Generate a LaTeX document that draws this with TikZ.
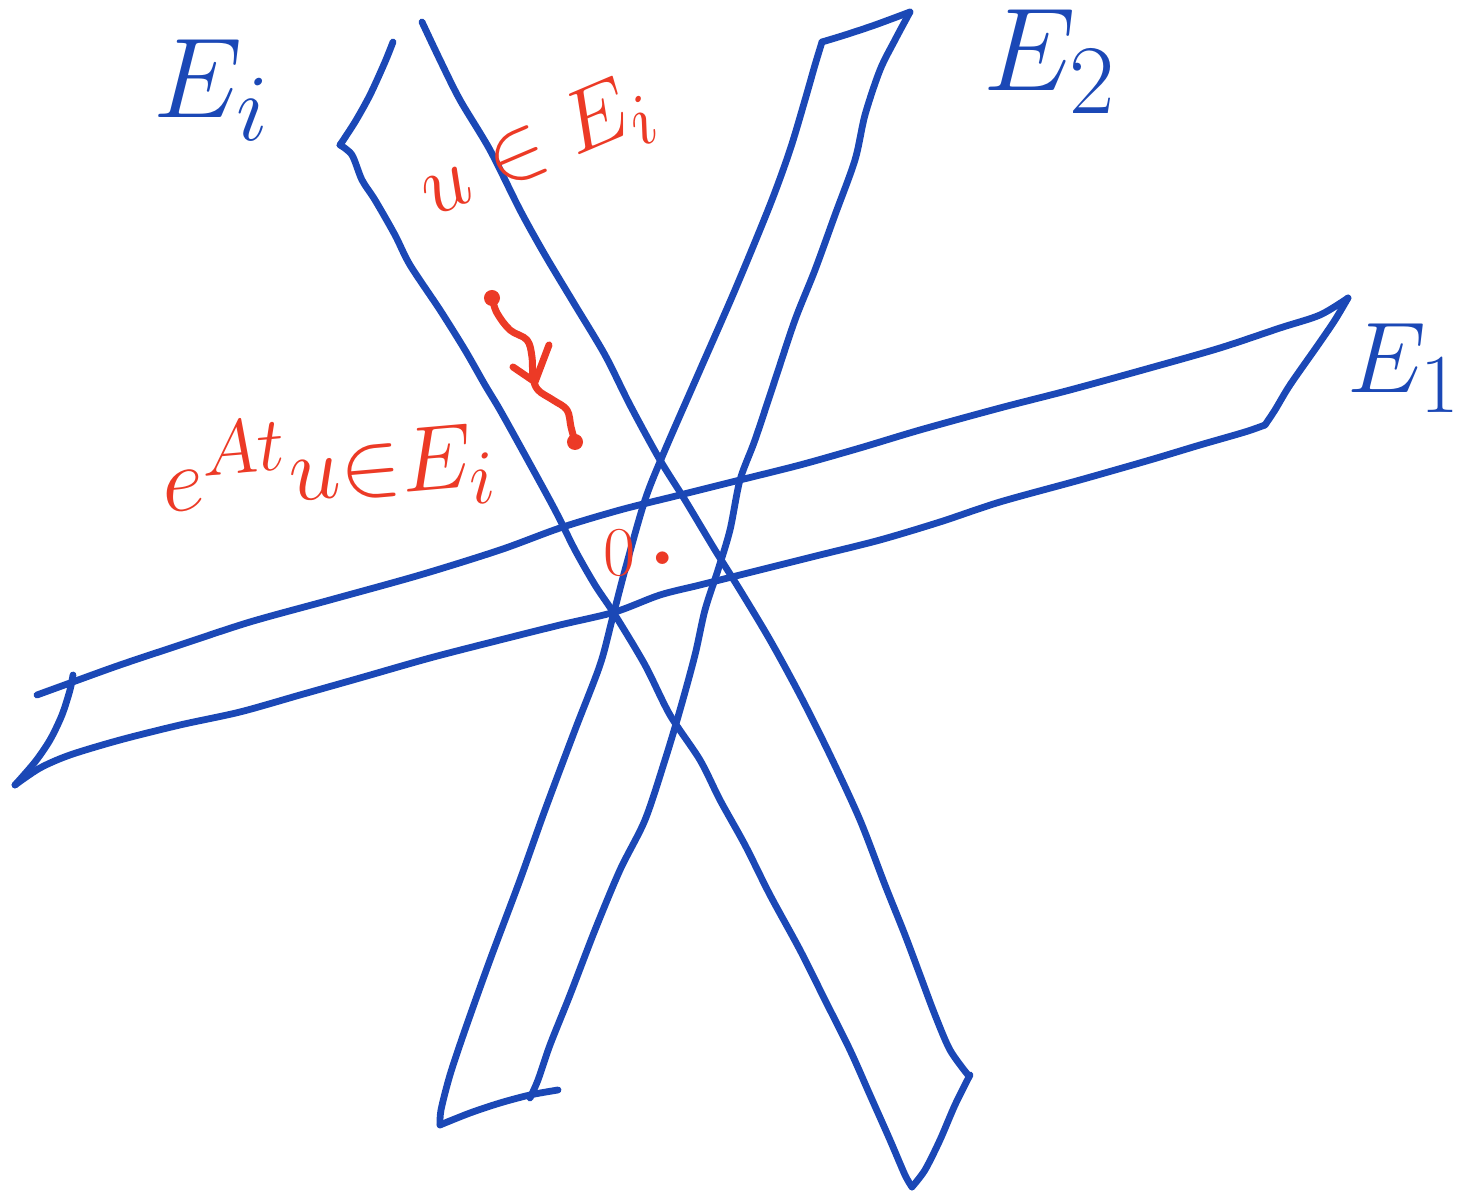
\documentclass[tikz,border=0pt]{standalone}
\usepackage{amsmath}
\definecolor{penblue}{RGB}{27,72,182}
\definecolor{penred}{RGB}{236,58,38}
\tikzset{
  band/.style={draw=penblue, line width=0.068cm, line cap=round, line join=round},
  redpen/.style={draw=penred, line width=0.07cm, line cap=round, line join=round},
  bluelab/.style={text=penblue, font=\Huge, inner sep=0pt},
  redlab/.style={text=penred, font=\Huge, inner sep=0pt},
}
\begin{document}
\begin{tikzpicture}[x=0.01cm, y=-0.01cm]
\useasboundingbox (0,0) rectangle (1465,1192);

% ---------- band E_i (top-left to bottom-right) ----------
\draw[band] plot[smooth, tension=0.5] coordinates {(393,42) (385,62) (370,95) (355,122) (340,145)};
\draw[band] plot[smooth, tension=0.5] coordinates {(340,145) (352,155) (362,180) (375,200) (395,235) (410,265) (440,310) (465,350) (485,385) (500,410) (525,455) (555,510) (575,550) (595,585) (615,615) (645,665) (670,715) (700,760) (720,800) (745,845) (770,895) (800,950) (825,1000) (850,1050) (870,1095) (890,1140) (905,1175) (912,1187)};
\draw[band] plot[smooth, tension=0.5] coordinates {(912,1187) (925,1170) (940,1140) (955,1105) (970,1075)};
\draw[band] plot[smooth, tension=0.5] coordinates {(422,22) (440,60) (460,100) (490,150) (520,210) (545,255) (575,305) (605,355) (630,405) (660,460) (685,500) (715,550) (740,590) (770,640) (800,695) (830,755) (860,820) (885,885) (905,935) (920,975) (935,1015) (950,1050) (968,1075)};

% ---------- band E_2 (bottom-left to top-right) ----------
\draw[band] plot[smooth, tension=0.5] coordinates {(440,1125) (441,1110) (450,1075) (465,1030) (490,960) (520,880) (545,810) (575,730) (600,665) (612,620) (625,570) (645,500) (665,450) (700,370) (735,290) (770,205) (790,150) (805,100) (815,65) (822,42)};
\draw[band] plot[smooth, tension=0.5] coordinates {(822,42) (845,35) (875,25) (910,12)};
\draw[band] plot[smooth, tension=0.5] coordinates {(910,12) (895,40) (880,70) (865,115) (855,160) (835,215) (815,270) (795,320) (775,380) (755,440) (740,480) (730,530) (718,570) (705,610) (695,655) (680,710) (665,760) (645,820) (620,870) (595,930) (570,995) (550,1045) (538,1080) (530,1098)};
\draw[band] plot[smooth, tension=0.5] coordinates {(440,1125) (470,1113) (500,1103) (530,1095) (558,1090)};

% ---------- band E_1 (left to right, rising) ----------
\draw[band] plot[smooth, tension=0.5] coordinates {(37,695) (70,683) (120,665) (180,645) (250,622) (330,600) (420,575) (500,550) (560,528) (620,510) (680,495) (740,480) (800,465) (860,448) (920,430) (1000,408) (1070,390) (1150,368) (1220,348) (1280,328) (1320,315) (1348,298)};
\draw[band] plot[smooth, tension=0.5] coordinates {(1348,298) (1335,320) (1318,345) (1290,385) (1275,410) (1265,425)};
\draw[band] plot[smooth, tension=0.5] coordinates {(1265,425) (1245,432) (1200,445) (1150,460) (1080,480) (1000,502) (940,522) (880,540) (820,555) (760,570) (700,585) (660,595) (615,612) (560,625) (500,640) (430,658) (360,678) (300,695) (240,712) (180,725) (120,740) (70,755) (40,768) (15,785)};
\draw[band] plot[smooth, tension=0.5] coordinates {(15,785) (35,762) (50,740) (62,715) (70,690) (73,675)};

% ---------- blue labels ----------
\node[bluelab, scale=1.3] (lEi) at (212,90) {$E_i$};
\node[bluelab, scale=1.35] (lE2) at (1050,62) {$E_2$};
\node[bluelab, scale=1.15, anchor=east] (lE1) at (1462,368) {$E_1$};

% ---------- red labels ----------
\node[redlab, scale=1.0, rotate=23] (lu) at (537,150) {$u \in E_i$};
\node[redlab, scale=1.05, rotate=5] (leAt) at (328,465) {$e^{At}u{\in}E_i$};
\node[redlab, scale=0.8] (l0) at (643,553) {$0$\hspace{0.12em}\raisebox{0.35ex}{\scalebox{2.2}{.}}};

% ---------- squiggle arrow ----------
\coordinate (s) at (492,298);
\coordinate (t) at (575,442);
\fill[penred] (s) circle[radius=0.08cm];
\fill[penred] (t) circle[radius=0.08cm];
\draw[redpen] plot[smooth, tension=0.6] coordinates {(s) (497,313) (510,330) (527,340) (532,357) (533,377) (538,390) (553,400) (567,410) (571,427) (t)};
\draw[redpen] (513,367) -- (535,382) -- (549,345);
\end{tikzpicture}
\end{document}
